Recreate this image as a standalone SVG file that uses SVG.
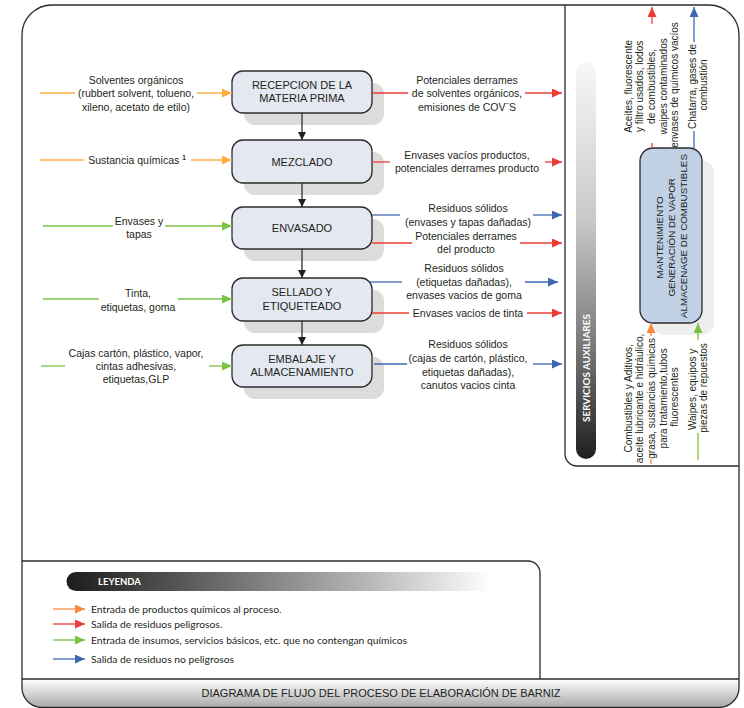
<svg xmlns="http://www.w3.org/2000/svg" width="744" height="708" viewBox="0 0 744 708">
  <defs>
    <style>
      .frame { fill: none; stroke: #2b2b2b; stroke-width: 1.3; }
      .box { fill: #e4e8f1; stroke: #2b2b2b; stroke-width: 1.3; }
      .shadow { fill: #dcdcdc; }
      .lbl { font-family: "Liberation Sans", Arial, sans-serif; font-size: 10.5px; fill: #231f20; text-anchor: middle; }
      .boxlbl { font-family: "Liberation Sans", Arial, sans-serif; font-size: 11px; fill: #231f20; text-anchor: middle; }
      .rot { font-family: "Liberation Sans", Arial, sans-serif; font-size: 10px; fill: #231f20; text-anchor: middle; }
      .leg { font-family: Lato, "Open Sans", sans-serif; font-size: 10.3px; fill: #231f20; }
      .in-o { stroke: #fbb040; stroke-width: 1.3; fill: none; }
      .in-o2 { stroke: #f6893c; stroke-width: 1.3; fill: none; }
      .in-g { stroke: #7cc242; stroke-width: 1.3; fill: none; }
      .out-r { stroke: #ee3b36; stroke-width: 1.3; fill: none; }
      .out-b { stroke: #3f68b1; stroke-width: 1.3; fill: none; }
      .flow { stroke: #231f20; stroke-width: 1.2; fill: none; }
    </style>
    <marker id="ah-o" markerUnits="userSpaceOnUse" markerWidth="11" markerHeight="9" refX="10" refY="4.5" orient="auto"><path d="M0,0 L10,4.5 L0,9 Z" fill="#fbb040"/></marker>
    <marker id="ah-o2" markerUnits="userSpaceOnUse" markerWidth="11" markerHeight="9" refX="10" refY="4.5" orient="auto"><path d="M0,0 L10,4.5 L0,9 Z" fill="#f6893c"/></marker>
    <marker id="ah-g" markerUnits="userSpaceOnUse" markerWidth="11" markerHeight="9" refX="10" refY="4.5" orient="auto"><path d="M0,0 L10,4.5 L0,9 Z" fill="#7cc242"/></marker>
    <marker id="ah-r" markerUnits="userSpaceOnUse" markerWidth="11" markerHeight="9" refX="10" refY="4.5" orient="auto"><path d="M0,0 L10,4.5 L0,9 Z" fill="#ee3b36"/></marker>
    <marker id="ah-b" markerUnits="userSpaceOnUse" markerWidth="11" markerHeight="9" refX="10" refY="4.5" orient="auto"><path d="M0,0 L10,4.5 L0,9 Z" fill="#3f68b1"/></marker>
    <marker id="ah-k" markerUnits="userSpaceOnUse" markerWidth="9" markerHeight="8" refX="8" refY="4" orient="auto"><path d="M0,0 L8,4 L0,8 Z" fill="#231f20"/></marker>
    <linearGradient id="g-title" x1="0" y1="0" x2="0" y2="1">
      <stop offset="0" stop-color="#ffffff"/>
      <stop offset="1" stop-color="#a9a9a9"/>
    </linearGradient>
    <linearGradient id="g-leyenda" x1="0" y1="0" x2="1" y2="0">
      <stop offset="0" stop-color="#1c1c1c"/>
      <stop offset="0.3" stop-color="#5e5e5e"/>
      <stop offset="0.7" stop-color="#b5b5b5"/>
      <stop offset="1" stop-color="#ffffff"/>
    </linearGradient>
    <linearGradient id="g-serv" x1="0" y1="0" x2="0" y2="1">
      <stop offset="0" stop-color="#f8f8f8"/>
      <stop offset="0.4" stop-color="#c8c8c8"/>
      <stop offset="0.7" stop-color="#7d7d7d"/>
      <stop offset="1" stop-color="#1e1e1e"/>
    </linearGradient>
  </defs>

  <rect width="744" height="708" fill="#ffffff"/>

  <!-- title band -->
  <g id="title">
    <path d="M22,679 H739 V688 A20,20 0 0 1 719,707.5 H42 A20,20 0 0 1 22,688 Z" fill="url(#g-title)"/>
    <text x="381" y="697" class="lbl" style="font-size:11px">DIAGRAMA DE FLUJO DEL PROCESO DE ELABORACIÓN DE BARNIZ</text>
  </g>

  <!-- outer frame, services area, legend area -->
  <g id="frames">
    <path class="frame" d="M22,35 A30,30 0 0 1 52,5 H709 A30,30 0 0 1 739,35 V688 A20,20 0 0 1 719,707.5 H42 A20,20 0 0 1 22,688 Z"/>
    <path class="frame" d="M565,5 V454 A12,12 0 0 0 577,466 H739"/>
    <path class="frame" d="M22,561 H528 A12,12 0 0 1 540,573 V679"/>
    <path class="frame" d="M22,679 H739"/>
  </g>

  <!-- process steps -->
  <g id="recepcion">
    <rect class="shadow" x="244" y="83" width="140" height="42" rx="11"/>
    <rect class="box" x="232" y="71" width="140" height="42" rx="11"/>
    <text class="boxlbl" x="302" y="89">RECEPCION DE LA</text>
    <text class="boxlbl" x="302" y="102">MATERIA PRIMA</text>
  </g>
  <g id="mezclado">
    <rect class="shadow" x="244" y="152" width="140" height="43" rx="11"/>
    <rect class="box" x="232" y="140" width="140" height="43" rx="11"/>
    <text class="boxlbl" x="302" y="165.5">MEZCLADO</text>
  </g>
  <g id="envasado">
    <rect class="shadow" x="244" y="219" width="140" height="42" rx="11"/>
    <rect class="box" x="232" y="207" width="140" height="42" rx="11"/>
    <text class="boxlbl" x="302" y="232">ENVASADO</text>
  </g>
  <g id="sellado">
    <rect class="shadow" x="244" y="290" width="140" height="43" rx="11"/>
    <rect class="box" x="232" y="278" width="140" height="43" rx="11"/>
    <text class="boxlbl" x="302" y="296">SELLADO Y</text>
    <text class="boxlbl" x="302" y="309.5">ETIQUETEADO</text>
  </g>
  <g id="embalaje">
    <rect class="shadow" x="244" y="357" width="140" height="42" rx="11"/>
    <rect class="box" x="232" y="345" width="140" height="42" rx="11"/>
    <text class="boxlbl" x="302" y="362.5">EMBALAJE Y</text>
    <text class="boxlbl" x="302" y="376">ALMACENAMIENTO</text>
  </g>

  <!-- auxiliary services -->
  <g id="servicios">
    <rect x="576" y="62" width="20" height="397" rx="10" fill="url(#g-serv)"/>
    <text transform="translate(589.5,368) rotate(-90)" text-anchor="middle" style="font-family:Lato,'Open Sans',sans-serif;font-size:9.9px;font-weight:bold;fill:#ffffff">SERVICIOS AUXILIARES</text>
  </g>
  <g id="mantenimiento">
    <rect x="652" y="160" width="62" height="175" rx="13" fill="#eeeeee"/>
    <rect x="640" y="148" width="62" height="175" rx="13" fill="#c0d1e6" stroke="#2b2b2b" stroke-width="1.3"/>
    <text transform="translate(659,236) rotate(-90)" class="rot" style="font-size:9.8px">
      <tspan x="0" y="3.5">MANTENIMIENTO</tspan>
      <tspan x="0" y="15.5">GENERACIÓN DE VAPOR</tspan>
      <tspan x="0" y="27.5">ALMACENAGE DE COMBUSTIBLES</tspan>
    </text>
  </g>

  <!-- connectors -->
  <g id="connectors">
    <!-- main flow -->
    <line class="flow" x1="302" y1="113" x2="302" y2="140" marker-end="url(#ah-k)"/>
    <line class="flow" x1="302" y1="183" x2="302" y2="207" marker-end="url(#ah-k)"/>
    <line class="flow" x1="302" y1="249" x2="302" y2="278" marker-end="url(#ah-k)"/>
    <line class="flow" x1="302" y1="321" x2="302" y2="345" marker-end="url(#ah-k)"/>

    <!-- inputs -->
    <line class="in-o" x1="40" y1="93" x2="75" y2="93"/>
    <line class="in-o" x1="197" y1="93" x2="232" y2="93" marker-end="url(#ah-o)"/>
    <line class="in-o" x1="40" y1="160" x2="84" y2="160"/>
    <line class="in-o" x1="191" y1="160" x2="232" y2="160" marker-end="url(#ah-o)"/>
    <line class="in-g" x1="43" y1="226" x2="113" y2="226"/>
    <line class="in-g" x1="165" y1="226" x2="232" y2="226" marker-end="url(#ah-g)"/>
    <line class="in-g" x1="43" y1="299" x2="99" y2="299"/>
    <line class="in-g" x1="178" y1="299" x2="232" y2="299" marker-end="url(#ah-g)"/>
    <line class="in-g" x1="41" y1="366" x2="65" y2="366"/>
    <line class="in-g" x1="209" y1="366" x2="232" y2="366" marker-end="url(#ah-g)"/>

    <!-- outputs -->
    <line class="out-r" x1="372" y1="93" x2="408" y2="93"/>
    <line class="out-r" x1="525" y1="93" x2="562" y2="93" marker-end="url(#ah-r)"/>
    <line class="out-r" x1="372" y1="162" x2="390" y2="162"/>
    <line class="out-r" x1="545" y1="162" x2="562" y2="162" marker-end="url(#ah-r)"/>
    <line class="out-b" x1="372" y1="215" x2="400" y2="215"/>
    <line class="out-b" x1="533" y1="215" x2="562" y2="215" marker-end="url(#ah-b)"/>
    <line class="out-r" x1="372" y1="243" x2="412" y2="243"/>
    <line class="out-r" x1="520" y1="243" x2="562" y2="243" marker-end="url(#ah-r)"/>
    <line class="out-b" x1="370" y1="282" x2="402" y2="282"/>
    <line class="out-b" x1="525" y1="282" x2="558" y2="282" marker-end="url(#ah-b)"/>
    <line class="out-r" x1="372" y1="313" x2="409" y2="313"/>
    <line class="out-r" x1="527" y1="313" x2="562" y2="313" marker-end="url(#ah-r)"/>
    <line class="out-b" x1="374" y1="364" x2="407" y2="364"/>
    <line class="out-b" x1="533" y1="364" x2="562" y2="364" marker-end="url(#ah-b)"/>

    <!-- services outputs (up) -->
    <line class="out-r" x1="652" y1="148" x2="652" y2="143"/>
    <line class="out-r" x1="652" y1="24" x2="652" y2="7" marker-end="url(#ah-r)"/>
    <line class="out-b" x1="694" y1="148" x2="694" y2="131"/>
    <line class="out-b" x1="694" y1="42" x2="694" y2="7" marker-end="url(#ah-b)"/>

    <!-- services inputs (up) -->
    <line class="in-o2" x1="651" y1="464" x2="651" y2="459"/>
    <line class="in-o2" x1="651" y1="336" x2="651" y2="323" marker-end="url(#ah-o2)"/>
    <line class="in-g" x1="698" y1="460" x2="698" y2="433"/>
    <line class="in-g" x1="698" y1="340" x2="698" y2="323" marker-end="url(#ah-g)"/>
  </g>

  <!-- input labels -->
  <g id="input-labels">
    <text class="lbl"><tspan x="136" y="84">Solventes orgánicos</tspan><tspan x="136" y="97">(rubbert solvent, tolueno,</tspan><tspan x="136" y="111">xileno, acetato de etilo)</tspan></text>
    <text class="lbl" x="137" y="164">Sustancia químicas <tspan dy="-4" style="font-size:6.5px;font-weight:bold">1</tspan></text>
    <text class="lbl"><tspan x="139" y="225">Envases y</tspan><tspan x="139" y="238">tapas</tspan></text>
    <text class="lbl"><tspan x="138" y="297">Tinta,</tspan><tspan x="138" y="311">etiquetas, goma</tspan></text>
    <text class="lbl"><tspan x="136" y="357">Cajas cartón, plástico, vapor,</tspan><tspan x="136" y="370">cintas adhesivas,</tspan><tspan x="136" y="383">etiquetas,GLP</tspan></text>
  </g>

  <!-- output labels -->
  <g id="output-labels">
    <text class="lbl"><tspan x="467" y="84">Potenciales derrames</tspan><tspan x="467" y="97">de solventes orgánicos,</tspan><tspan x="467" y="111">emisiones de COV¨S</tspan></text>
    <text class="lbl"><tspan x="467" y="159">Envases vacíos productos,</tspan><tspan x="467" y="172">potenciales derrames producto</tspan></text>
    <text class="lbl"><tspan x="468" y="212">Residuos sólidos</tspan><tspan x="468" y="226">(envases y tapas dañadas)</tspan></text>
    <text class="lbl"><tspan x="466" y="240">Potenciales derrames</tspan><tspan x="466" y="253">del producto</tspan></text>
    <text class="lbl"><tspan x="464" y="272">Residuos sólidos</tspan><tspan x="464" y="286">(etiquetas dañadas),</tspan><tspan x="464" y="299">envases vacios de goma</tspan></text>
    <text class="lbl" x="468" y="317">Envases vacios de tinta</text>
    <text class="lbl"><tspan x="468" y="348">Residuos sólidos</tspan><tspan x="468" y="361.5">(cajas de cartón, plástico,</tspan><tspan x="468" y="375.5">etiquetas dañadas),</tspan><tspan x="468" y="388.5">canutos vacios cinta</tspan></text>
  </g>

  <!-- services labels -->
  <g id="services-labels">
    <text transform="translate(628,85) rotate(-90)" class="rot">
      <tspan x="0" y="3.5">Aceites, fluorescente</tspan>
      <tspan x="0" y="15.2">y filtro usados, lodos</tspan>
      <tspan x="0" y="26.9">de combustibles,</tspan>
      <tspan x="0" y="38.6">waipes contaminados</tspan>
      <tspan x="0" y="50.3">envases de químicos vacíos</tspan>
    </text>
    <text transform="translate(692,85) rotate(-90)" class="rot">
      <tspan x="0" y="3.5">Chatarra, gases de</tspan>
      <tspan x="0" y="14.5">combustión</tspan>
    </text>
    <text transform="translate(628,397) rotate(-90)" class="rot">
      <tspan x="0" y="3.5">Combustibles y Aditivos,</tspan>
      <tspan x="0" y="15.2">aceite lubricante e hidráulico,</tspan>
      <tspan x="0" y="26.9">grasa, sustancias químicas</tspan>
      <tspan x="0" y="38.6">para tratamiento,tubos</tspan>
      <tspan x="0" y="50.3">fluorescentes</tspan>
    </text>
    <text transform="translate(692,388) rotate(-90)" class="rot">
      <tspan x="0" y="3.5">Waipes, equipos y</tspan>
      <tspan x="0" y="14.5">piezas de repuestos</tspan>
    </text>
  </g>

  <!-- legend -->
  <g id="leyenda">
    <path d="M76,572 H492 V591 H76 A9.5,9.5 0 0 1 76,572 Z" fill="url(#g-leyenda)"/>
    <text x="98" y="585" style="font-family:Lato,'Open Sans',sans-serif;font-size:9.5px;font-weight:bold;fill:#ffffff">LEYENDA</text>
    <line class="in-o2" x1="53" y1="609" x2="85" y2="609" marker-end="url(#ah-o2)"/>
    <text class="leg" x="91" y="612.5">Entrada de productos químicos al proceso.</text>
    <line class="out-r" x1="53" y1="624" x2="85" y2="624" marker-end="url(#ah-r)"/>
    <text class="leg" x="91" y="627.5">Salida de residuos peligrosos.</text>
    <line class="in-g" x1="53" y1="640" x2="85" y2="640" marker-end="url(#ah-g)"/>
    <text class="leg" x="91" y="643.5">Entrada de insumos, servicios básicos, etc. que no contengan químicos</text>
    <line class="out-b" x1="53" y1="659" x2="85" y2="659" marker-end="url(#ah-b)"/>
    <text class="leg" x="91" y="662.5">Salida de residuos no peligrosos</text>
  </g>
</svg>
